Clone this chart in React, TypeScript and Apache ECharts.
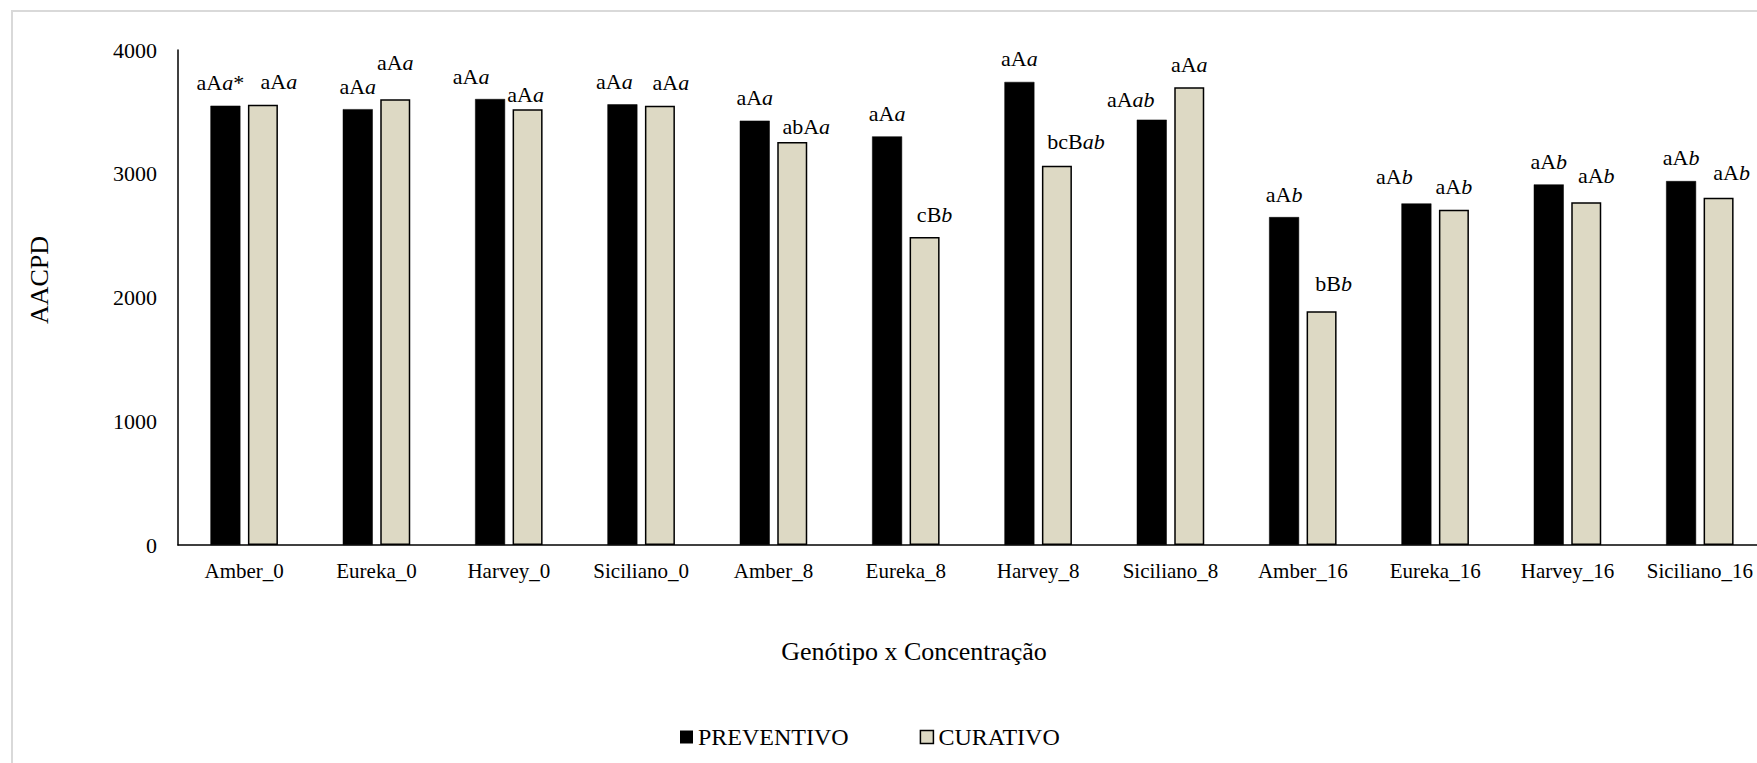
import React, { useEffect, useRef } from "react";
import * as echarts from "echarts";

const categories = [
  "Amber_0", "Eureka_0", "Harvey_0", "Siciliano_0",
  "Amber_8", "Eureka_8", "Harvey_8", "Siciliano_8",
  "Amber_16", "Eureka_16", "Harvey_16", "Siciliano_16",
];

const preventivo = [3550, 3522, 3604, 3561, 3429, 3302, 3742, 3437, 2650, 2760, 2914, 2941];
const curativo = [3558, 3602, 3521, 3550, 3256, 2488, 3065, 3699, 1889, 2709, 2769, 2806];

// label letters: [upright part, italic part, suffix]
const preventivoLetters: [string, string, string][] = [
  ["aA", "a", "*"], ["aA", "a", ""], ["aA", "a", ""], ["aA", "a", ""],
  ["aA", "a", ""], ["aA", "a", ""], ["aA", "a", ""], ["aA", "ab", ""],
  ["aA", "b", ""], ["aA", "b", ""], ["aA", "b", ""], ["aA", "b", ""],
];
const curativoLetters: [string, string, string][] = [
  ["aA", "a", ""], ["aA", "a", ""], ["aA", "a", ""], ["aA", "a", ""],
  ["abA", "a", ""], ["cB", "b", ""], ["bcB", "ab", ""], ["aA", "a", ""],
  ["bB", "b", ""], ["aA", "b", ""], ["aA", "b", ""], ["aA", "b", ""],
];

const yTicks = [0, 1000, 2000, 3000, 4000];

// label nudges (layout only)
const preventivoLabelShift: [number, number][] = [
  [-5, 0], [0, 0], [-19, 0], [-8, 0],
  [0, 0], [0, 0], [0, 0], [-21, 3],
  [0, 0], [-22, -4], [0, 0], [0, -1],
];
const curativoLabelShift: [number, number][] = [
  [16, 0], [0, -14], [-2, 8], [11, 0],
  [14, 7], [10, 0], [19, -1], [0, 0],
  [12, -5], [0, 0], [10, -4], [13, -2],
];

const FONT = "Liberation Serif";

const rich = {
  n: { fontFamily: FONT, fontSize: 22, color: "#000", lineHeight: 24 },
  i: { fontFamily: FONT, fontSize: 22, color: "#000", fontStyle: "italic", lineHeight: 24 },
};

function fmt(l: [string, string, string]) {
  let s = `{n|${l[0]}}{i|${l[1]}}`;
  if (l[2]) s += `{n|${l[2]}}`;
  return s;
}

export default function App() {
  const ref = useRef<HTMLDivElement>(null);
  useEffect(() => {
    if (!ref.current) return;
    const chart = echarts.init(ref.current, undefined, { renderer: "svg" });
    const prevData = preventivo.map((v, idx) => ({
      value: v,
      label: { formatter: fmt(preventivoLetters[idx]), offset: preventivoLabelShift[idx] },
    }));
    const curData = curativo.map((v, idx) => ({
      value: v,
      label: { formatter: fmt(curativoLetters[idx]), offset: curativoLabelShift[idx] },
    }));
    chart.setOption({
      animation: false,
      backgroundColor: "#fff",
      textStyle: { fontFamily: FONT, color: "#000" },
      grid: { left: 178, top: 50, bottom: 218, right: 34 },
      xAxis: {
        type: "category",
        data: categories,
        axisLine: { show: true, lineStyle: { color: "#000", width: 1.5 } },
        axisTick: { show: false },
        axisLabel: { fontFamily: FONT, fontSize: 21, color: "#000", margin: 15, interval: 0 },
        splitLine: { show: false },
      },
      yAxis: {
        type: "value",
        min: yTicks[0],
        max: yTicks[yTicks.length - 1],
        interval: 1000,
        axisLine: { show: true, lineStyle: { color: "#000", width: 1.5 } },
        axisTick: { show: false },
        axisLabel: {
          fontFamily: FONT,
          fontSize: 22,
          color: "#000",
          margin: 21,
          formatter: (v: number) => String(v),
        },
        splitLine: { show: false },
      },
      legend: {
        left: 675,
        top: 720,
        itemWidth: 13,
        itemHeight: 13,
        itemGap: 71,
        icon: "rect",
        textStyle: { fontFamily: FONT, fontSize: 24, color: "#000" },
        data: [
          { name: "PREVENTIVO", itemStyle: { color: "#000", borderColor: "#000", borderWidth: 0 } },
          { name: "CURATIVO", itemStyle: { color: "#ddd9c4", borderColor: "#000", borderWidth: 1.5 } },
        ],
      },
      graphic: [
        {
          type: "rect",
          z: -10,
          silent: true,
          shape: { x: 12, y: 11, width: 1900, height: 900 },
          style: { fill: "none", stroke: "#d9d9d9", lineWidth: 2 },
        },
        {
          type: "text",
          x: 39,
          y: 280,
          rotation: Math.PI / 2,
          style: {
            text: "AACPD",
            fontFamily: FONT,
            fontSize: 26,
            fill: "#000",
            align: "center",
            verticalAlign: "middle",
          },
        },
        {
          type: "text",
          x: 914,
          y: 651,
          style: {
            text: "Genótipo x Concentração",
            fontFamily: FONT,
            fontSize: 26,
            fill: "#000",
            align: "center",
            verticalAlign: "middle",
          },
        },
      ],
      series: [
        {
          name: "PREVENTIVO",
          type: "bar",
          data: prevData,
          barWidth: 30,
          barGap: "25%",
          itemStyle: { color: "#000", borderColor: "#000", borderWidth: 0.5 },
          label: { show: true, position: "top", distance: 11, rich },
        },
        {
          name: "CURATIVO",
          type: "bar",
          data: curData,
          barWidth: 30,
          barGap: "25%",
          itemStyle: { color: "#ddd9c4", borderColor: "#000", borderWidth: 1.5 },
          label: { show: true, position: "top", distance: 11, rich },
        },
      ],
    });
    return () => chart.dispose();
  }, []);
  return (
    <div style={{ position: "fixed", left: 0, top: 0, width: 1757, height: 763, overflow: "hidden", background: "#fff" }}>
      <div ref={ref} style={{ width: 1800, height: 763 }} />
    </div>
  );
}
